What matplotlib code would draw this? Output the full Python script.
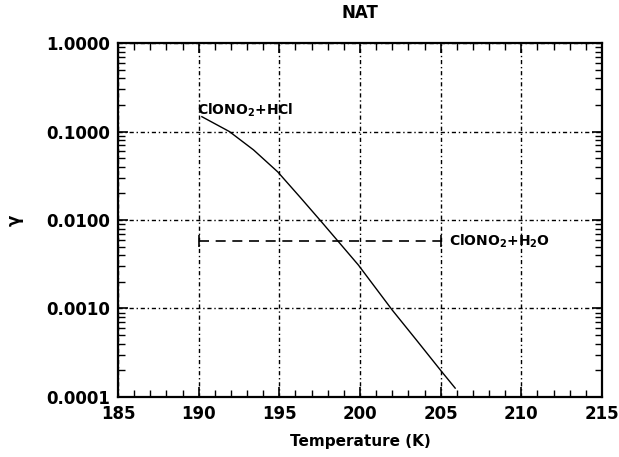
import matplotlib
matplotlib.use('Agg')
import matplotlib.pyplot as plt
from matplotlib.ticker import MultipleLocator, LogLocator, NullFormatter

# ClONO2 + HCl reaction probability on NAT
temp_hcl = [190.2, 191.9, 193.4, 194.9, 196.3, 197.6, 199.9, 202.0, 203.5, 205.0, 205.9]
gamma_hcl = [0.147, 0.10, 0.062, 0.035, 0.018, 0.0096, 0.0031, 0.00096, 0.00044, 0.00020, 0.000126]

# ClONO2 + H2O: constant value
temp_h2o = [190.0, 205.0]
gamma_h2o = [0.0058, 0.0058]

x_ticks = [185, 190, 195, 200, 205, 210, 215]
y_ticks = [1e-4, 1e-3, 1e-2, 1e-1, 1.0]
y_ticklabels = ['0.0001', '0.0010', '0.0100', '0.1000', '1.0000']

plt.rcParams['font.family'] = ['DejaVu Sans']
plt.rcParams['font.weight'] = 'bold'
plt.rcParams['mathtext.default'] = 'bf'

fig = plt.figure(figsize=(6.19, 4.57), dpi=100)
ax = fig.add_axes([0.1906, 0.1313, 0.9725 - 0.1906, 0.9059 - 0.1313])

grid_style = (0, (3, 2, 1, 2))
ax.grid(True, which='major', color='black', linestyle=grid_style, linewidth=1.0)

ax.plot(temp_hcl, gamma_hcl, color='black', linewidth=1.0)
ax.plot(temp_h2o, gamma_h2o, color='black', linewidth=1.2, linestyle=(0, (6, 4)),
        marker='|', markersize=8, markeredgewidth=1.2)

ax.set_yscale('log')
ax.set_xlim(185, 215)
ax.set_ylim(1e-4, 1.0)
ax.set_xticks(x_ticks)
ax.set_xticklabels([str(t) for t in x_ticks])
ax.xaxis.set_minor_locator(MultipleLocator(1))
ax.set_yticks(y_ticks)
ax.set_yticklabels(y_ticklabels)
ax.yaxis.set_minor_locator(LogLocator(base=10, subs=range(2, 10)))
ax.yaxis.set_minor_formatter(NullFormatter())

ax.tick_params(which='both', direction='in', top=True, right=True, labelsize=12)
ax.tick_params(which='major', length=7, width=1.2, pad=6)
ax.tick_params(which='minor', length=5, width=1.0)
for s in ax.spines.values():
    s.set_linewidth(1.6)

ax.text(189.9, 0.14, 'ClONO$_2$+HCl', fontsize=10, fontweight='bold', ha='left', va='bottom')
ax.text(205.5, 0.0058, 'ClONO$_2$+H$_2$O', fontsize=10, fontweight='bold', ha='left', va='center')

ax.set_title('NAT', fontsize=12, fontweight='bold', pad=18)
ax.set_xlabel('Temperature (K)', fontsize=11, fontweight='bold', labelpad=8)
ax.set_ylabel('γ', fontsize=12, fontweight='bold', labelpad=16)

fig.savefig('out.png', dpi=100)
